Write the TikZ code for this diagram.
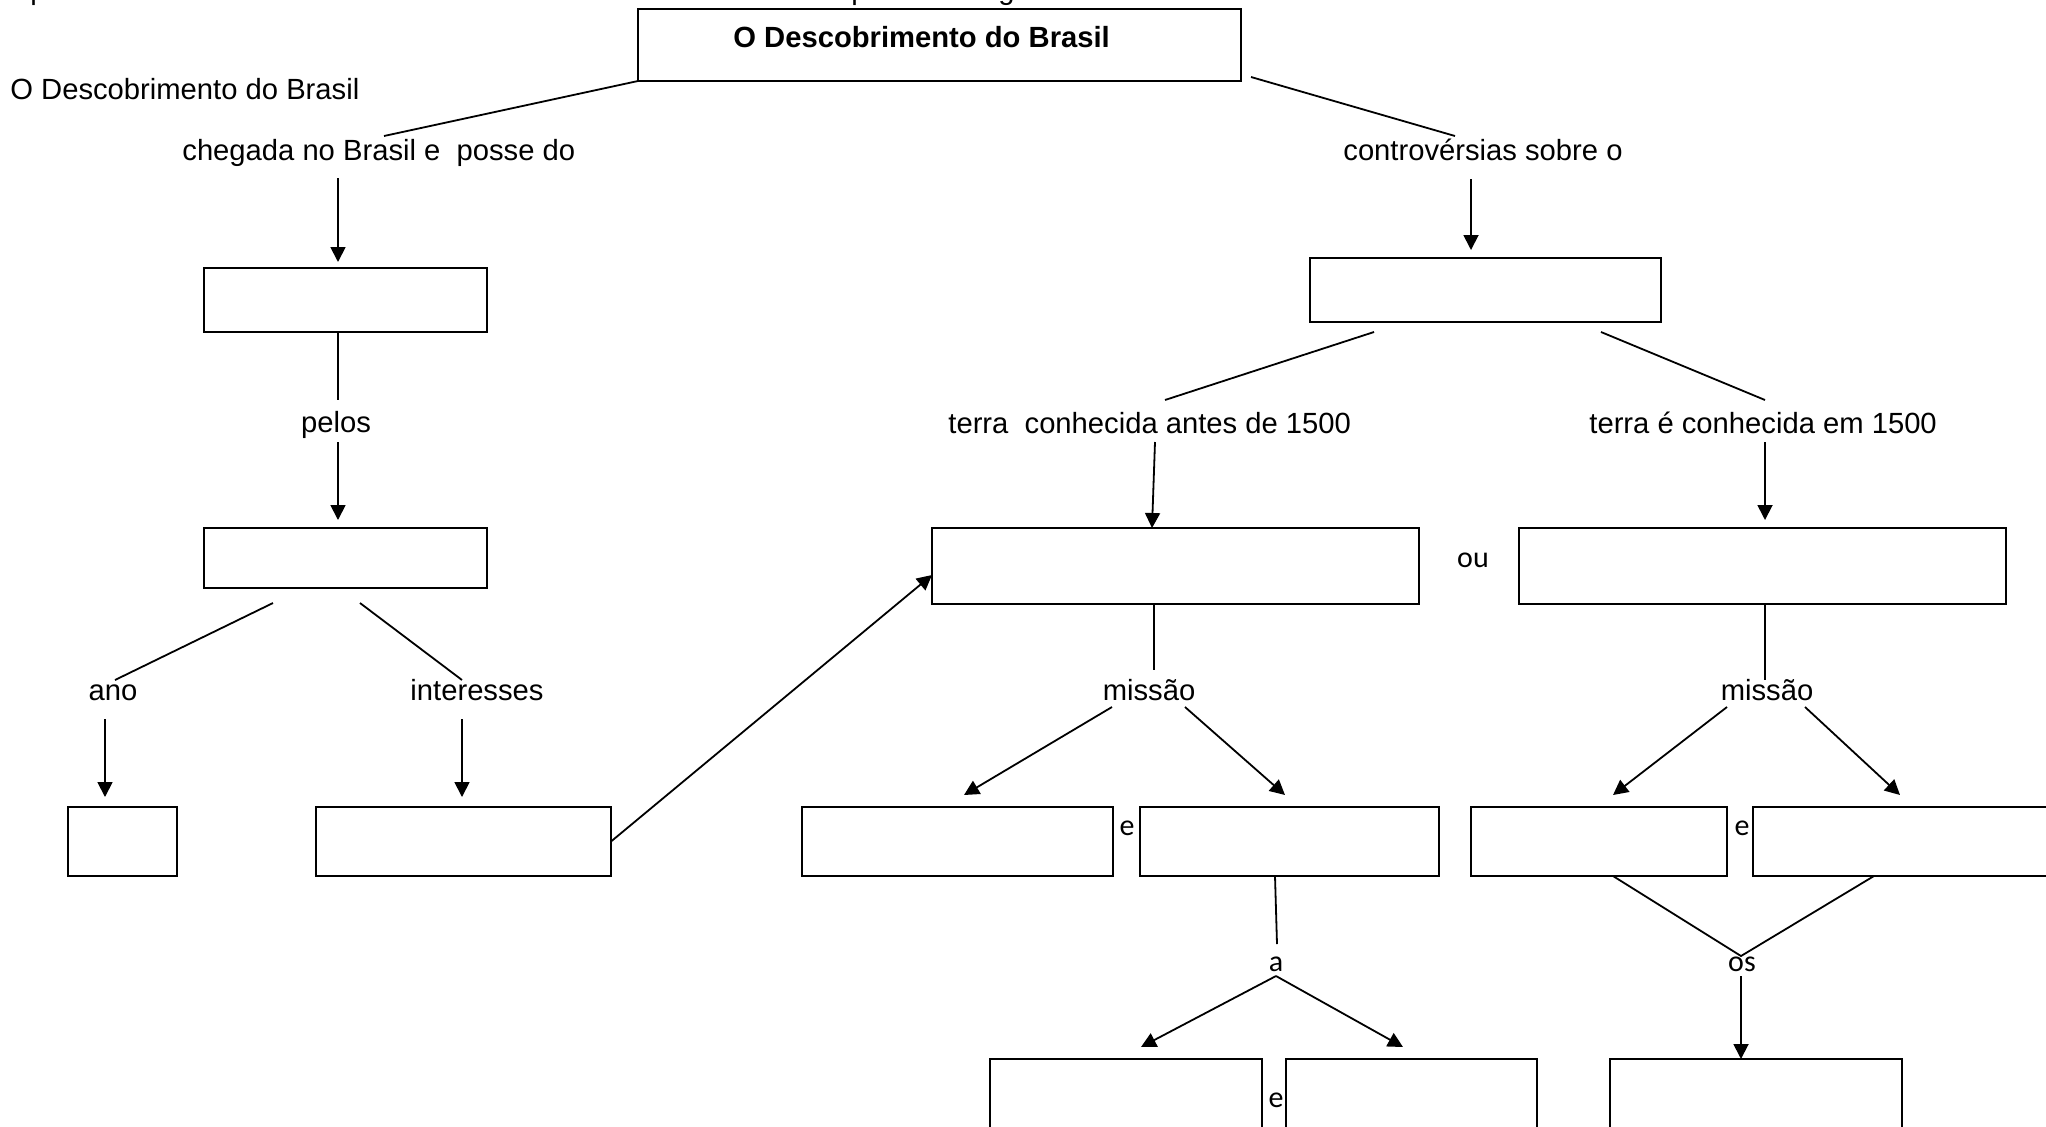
\documentclass[tikz,border=0pt]{standalone}
\usepackage{fontspec}
\setmainfont{Liberation Sans}
\newfontfamily\calibfont{Carlito}
\usetikzlibrary{arrows.meta}

\begin{document}
\begin{tikzpicture}[x=0.5pt,y=-0.5pt,
  box/.style={draw, line width=1.1pt, inner sep=0pt, outer sep=0pt, anchor=north west},
  lbl/.style={inner sep=0pt, anchor=base, font=\fontsize{14.6pt}{17pt}\selectfont},
  small/.style={inner sep=0pt, anchor=base, font=\fontsize{15pt}{17pt}\selectfont\calibfont},
  conn/.style={line width=0.9pt},
  arr/.style={conn, -{Triangle[length=7.5pt,width=7.5pt]}},
]
\useasboundingbox[fill=white] (0,0) rectangle (2046,1126);

% line of text above the frame, only its descenders reach into view
\node[lbl, anchor=base west] (fragA) at (30,-1) {p};
\node[lbl, anchor=base west] (fragB) at (851,-1) {p};
\node[lbl, anchor=base west] (fragC) at (998,-1) {g};

% ---------- boxes ----------
\node[box, minimum width=301.5pt, minimum height=36pt] (top) at (638,9) {};
\node[box, minimum width=141.5pt, minimum height=32pt] (b1) at (204,268) {};
\node[box, minimum width=141.5pt, minimum height=30pt] (b2) at (204,528) {};
\node[box, minimum width=54.5pt, minimum height=34.5pt] (bano) at (68,807) {};
\node[box, minimum width=147.5pt, minimum height=34.5pt] (bint) at (316,807) {};
\node[box, minimum width=175.5pt, minimum height=32pt] (bcon) at (1310,258) {};
\node[box, minimum width=243.5pt, minimum height=38pt] (bL) at (932,528) {};
\node[box, minimum width=243.5pt, minimum height=38pt] (bR) at (1519,528) {};
\node[box, minimum width=155.5pt, minimum height=34.5pt] (bA) at (802,807) {};
\node[box, minimum width=149.5pt, minimum height=34.5pt] (bB) at (1140,807) {};
\node[box, minimum width=128pt, minimum height=34.5pt] (bC) at (1471,807) {};
\node[box, minimum width=155pt, minimum height=34.5pt] (bD) at (1753,807) {};
\node[box, minimum width=136pt, minimum height=40pt] (bE) at (990,1059) {};
\node[box, minimum width=125.5pt, minimum height=40pt] (bF) at (1286,1059) {};
\node[box, minimum width=146pt, minimum height=40pt] (bG) at (1610,1059) {};

% ---------- texts ----------
\node[lbl, anchor=base west] (title) at (733,47) {\bfseries O Descobrimento do Brasil};
\node[lbl, anchor=base west] (side) at (10,99) {O Descobrimento do Brasil};
\node[lbl, anchor=base west] (cheg) at (182,160) {chegada no Brasil e\ \ posse do};
\node[lbl, anchor=base west] (contr) at (1343,160) {controvérsias sobre o};
\node[lbl] (pelos) at (336,432) {pelos};
\node[lbl, anchor=base west] (ter1) at (948,433) {terra\ \ conhecida antes de 1500};
\node[lbl, anchor=base west] (ter2) at (1589,433) {terra é conhecida em 1500};
\node[lbl] (ano) at (113,700) {ano};
\node[lbl] (inter) at (477,700) {interesses};
\node[lbl] (mis1) at (1149,700) {missão};
\node[lbl] (mis2) at (1767,700) {missão};
\node[small] (ou) at (1473,567) {ou};
\node[small] (eA) at (1127,835) {e};
\node[small] (eB) at (1742,835) {e};
\node[small] (eC) at (1276,1107) {e};
\node[small] (a) at (1276,971) {a};
\node[small] (os) at (1742,971) {os};

% ---------- connector ends ----------
\coordinate (chegTop) at (384,136);
\coordinate (topR) at (1251,77);
\coordinate (contrTop) at (1455,136);
\coordinate (chegBot) at (338,178);
\coordinate (b1In) at (338,262);
\coordinate (pelosTop) at (338,400);
\coordinate (pelosBot) at (338,442);
\coordinate (b2In) at (338,520);
\coordinate (b2L) at (273,603);
\coordinate (b2R) at (360,603);
\coordinate (anoTop) at (115,680);
\coordinate (interTop) at (462,680);
\coordinate (anoBot) at (105,719);
\coordinate (banoIn) at (105,797);
\coordinate (interBot) at (462,719);
\coordinate (bintIn) at (462,797);
\coordinate (bLIn) at (932,575);
\coordinate (contrBot) at (1471,179);
\coordinate (bconIn) at (1471,250);
\coordinate (bconL) at (1374,332);
\coordinate (bconR) at (1601,332);
\coordinate (ter1Top) at (1165,400);
\coordinate (ter2Top) at (1765,400);
\coordinate (ter1Bot) at (1155,442);
\coordinate (bLTop) at (1152,528);
\coordinate (ter2Bot) at (1765,442);
\coordinate (bRIn) at (1765,520);
\coordinate (bLOut) at (1154,604);
\coordinate (mis1Top) at (1154,670);
\coordinate (mis2Top) at (1765,680);
\coordinate (mis1L) at (1112,707);
\coordinate (mis1R) at (1185,707);
\coordinate (bAIn) at (964,795);
\coordinate (bBIn) at (1285,795);
\coordinate (mis2L) at (1727,707);
\coordinate (mis2R) at (1805,707);
\coordinate (bCIn) at (1613,795);
\coordinate (bDIn) at (1900,795);
\coordinate (bBOut) at (1275,876);
\coordinate (aTop) at (1277,944);
\coordinate (aBot) at (1276,976);
\coordinate (bEIn) at (1141,1047);
\coordinate (bFIn) at (1403,1047);
\coordinate (bCOut) at (1613,876);
\coordinate (bDOut) at (1874,876);
\coordinate (osTop) at (1741,956);
\coordinate (osBot) at (1741,976);
\coordinate (bGIn) at (1741,1059);

% ---------- connectors ----------
\draw[conn] (top.south west) -- (chegTop);
\draw[conn] (topR) -- (contrTop);
\draw[arr] (chegBot) -- (b1In);
\draw[conn] (b1.south -| chegBot) -- (pelosTop);
\draw[arr] (pelosBot) -- (b2In);
\draw[conn] (b2L) -- (anoTop);
\draw[conn] (b2R) -- (interTop);
\draw[arr] (anoBot) -- (banoIn);
\draw[arr] (interBot) -- (bintIn);
\draw[arr] (bint.east) -- (bLIn);
\draw[arr] (contrBot) -- (bconIn);
\draw[conn] (bconL) -- (ter1Top);
\draw[conn] (bconR) -- (ter2Top);
\draw[arr] (ter1Bot) -- (bLTop);
\draw[arr] (ter2Bot) -- (bRIn);
\draw[conn] (bLOut) -- (mis1Top);
\draw[conn] (bR.south -| mis2Top) -- (mis2Top);
\draw[arr] (mis1L) -- (bAIn);
\draw[arr] (mis1R) -- (bBIn);
\draw[arr] (mis2L) -- (bCIn);
\draw[arr] (mis2R) -- (bDIn);
\draw[conn] (bBOut) -- (aTop);
\draw[arr] (aBot) -- (bEIn);
\draw[arr] (aBot) -- (bFIn);
\draw[conn] (bCOut) -- (osTop) -- (bDOut);
\draw[arr] (osBot) -- (bGIn);
\end{tikzpicture}
\end{document}
